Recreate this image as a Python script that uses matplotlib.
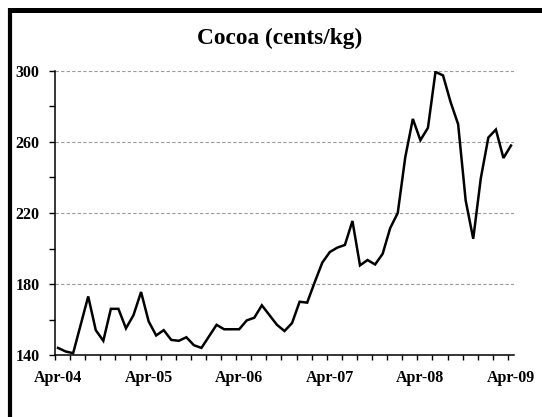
import matplotlib
matplotlib.use('Agg')
import matplotlib.pyplot as plt
from matplotlib.lines import Line2D

# monthly cocoa price, Apr-04 .. Apr-09 (cents/kg)
prices = [144, 142, 141, 157, 173, 154, 148, 166, 166, 155,
          162.5, 175.5, 159, 151, 154, 148.5, 148, 150, 145.5, 144,
          150.5, 157, 154.5, 154.5, 154.5, 159.5, 161, 168, 162.5, 157,
          153.5, 158, 170, 169.5, 181, 192, 198, 200.5, 202, 215.5,
          190.5, 193.5, 191, 197, 211.5, 220, 251.5, 273, 261, 268,
          299.5, 297.5, 282.5, 270, 227, 205.5, 239.5, 262.5, 267, 251,
          258]
month_idx = list(range(len(prices)))
tick_labels = ['Apr-04', 'Apr-05', 'Apr-06', 'Apr-07', 'Apr-08', 'Apr-09']
label_idx = [0, 12, 24, 36, 48, 60]
y_major = [140, 180, 220, 260, 300]
y_minor = [160, 200, 240, 280]

plt.rcParams['font.family'] = 'Liberation Serif'
plt.rcParams['font.weight'] = 'bold'

W, H = 542, 417
fig = plt.figure(figsize=(W / 100, H / 100), dpi=100)
ax = fig.add_axes([55 / W, 1 - 355 / H, (514 - 55) / W, (355 - 71) / H])

ax.plot(month_idx, prices, color='black', lw=1.8, solid_joinstyle='miter')

ax.set_ylim(140, 300)
ax.set_xlim(-0.4, 60.4)

ax.set_yticks(y_major)
ax.set_yticks(y_minor, minor=True)
ax.set_yticklabels([str(v) for v in y_major], fontsize=11.5, fontweight='bold')
ax.tick_params(axis='y', which='both', direction='out', length=4, width=1, pad=7)

# x ticks every two months, labels once a year
ax.set_xticks([2 * k - 0.4 for k in range(31)])
ax.set_xticklabels([])
ax.set_xticks(label_idx, minor=True)
ax.set_xticklabels(tick_labels, minor=True, fontsize=11.5, fontweight='bold')
ax.tick_params(axis='x', which='major', direction='out', length=3.5, width=1)
ax.tick_params(axis='x', which='minor', length=0, pad=11)

for v in y_major[1:]:
    ax.axhline(v, color='#9a9a9a', lw=0.8, ls=(0, (3, 2)), zorder=0)

for s in ['top', 'right']:
    ax.spines[s].set_visible(False)
for s in ['left', 'bottom']:
    ax.spines[s].set_linewidth(1.1)

fig.text(279.5 / W, 1 - 38 / H, 'Cocoa (cents/kg)', ha='center', va='center',
         fontsize=16.8, fontweight='bold')

# outer frame (only top and left visible in the crop)
fig.add_artist(Line2D([9.5 / W, 1], [1 - 9.5 / H, 1 - 9.5 / H], color='black', lw=3.6,
                      transform=fig.transFigure, solid_capstyle='butt'))
fig.add_artist(Line2D([9.5 / W, 9.5 / W], [0, 1 - 7.5 / H], color='black', lw=3,
                      transform=fig.transFigure, solid_capstyle='butt'))

fig.savefig('out.png', dpi=100)
